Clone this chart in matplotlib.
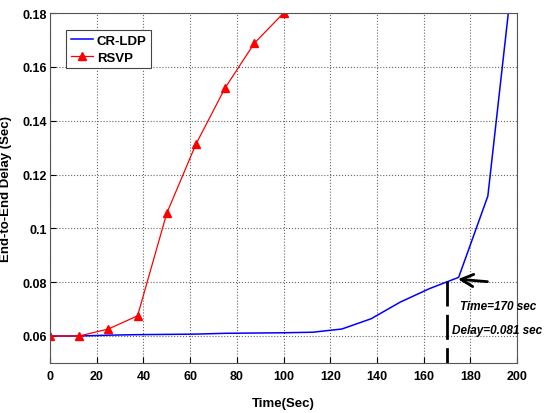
import matplotlib
matplotlib.use("Agg")
import matplotlib.pyplot as plt

plt.rcParams['font.family'] = ['Liberation Sans', 'DejaVu Sans']
plt.rcParams['font.weight'] = 'bold'

# data
time_rsvp = [0, 12.5, 25, 37.5, 50, 62.5, 75, 87.5, 100]
delay_rsvp = [0.060, 0.060, 0.0626, 0.0675, 0.1056, 0.1313, 0.1522, 0.1688, 0.180]

time_crldp = [0, 12.5, 25, 37.5, 50, 62.5, 75, 87.5, 100, 112.5, 125, 137.5,
              150, 162.5, 175, 187.5, 200]
delay_crldp = [0.060, 0.0600, 0.0603, 0.0605, 0.0606, 0.0607, 0.0610, 0.0611,
               0.0612, 0.0614, 0.0626, 0.0664, 0.0726, 0.0776, 0.0818, 0.112, 0.209]

x_ticks = [0, 20, 40, 60, 80, 100, 120, 140, 160, 180, 200]
y_ticks = [0.06, 0.08, 0.1, 0.12, 0.14, 0.16, 0.18]
y_tick_labels = ['0.06', '0.08', '0.1', '0.12', '0.14', '0.16', '0.18']

fig = plt.figure(figsize=(5.58, 4.14), dpi=100)
ax = fig.add_axes([0.0896, 0.121, 0.837, 0.845])

ax.plot(time_crldp, delay_crldp, color='blue', lw=1.1, label='CR-LDP')
ax.plot(time_rsvp, delay_rsvp, color='red', lw=0.9, marker='^', ms=6,
        label='RSVP')

ax.set_xlim(0, 200)
ax.set_ylim(0.05, 0.18)
ax.set_xticks(x_ticks)
ax.set_yticks(y_ticks)
ax.set_yticklabels(y_tick_labels)
ax.tick_params(labelsize=9, direction='in', length=4)
ax.tick_params(axis='y', pad=2)
ax.tick_params(axis='x', pad=5)
ax.grid(True, linestyle=':', color='#666666', lw=0.8)
for s in ax.spines.values():
    s.set_color('#555555')

ax.set_xlabel('Time(Sec)', fontsize=9.5, fontweight='bold')
ax.set_ylabel('End-to-End Delay (Sec)', fontsize=9.5, fontweight='bold')
ax.xaxis.set_label_coords(0.5, -0.098)
ax.yaxis.set_label_coords(-0.082, 0.5)

leg = ax.legend(loc='upper left', bbox_to_anchor=(0.02, 0.97), fontsize=9.5,
                fancybox=False, edgecolor='#444444', framealpha=1,
                handlelength=1.7, borderpad=0.35, labelspacing=0.35,
                handletextpad=0.3)
leg.get_frame().set_linewidth(0.8)

# annotation at t=170
ax.plot([170, 170], [0.0805, 0.05], color='black', lw=2,
        linestyle=(0, (9, 3)), clip_on=False)
ax.annotate('', xy=(173.5, 0.0812), xytext=(188.5, 0.0801),
            arrowprops=dict(arrowstyle='->', color='black', lw=2,
                            mutation_scale=22))
ax.text(175.5, 0.0712, 'Time=170 sec', fontsize=8.5, style='italic',
        va='center', ha='left', clip_on=False)
ax.text(172.0, 0.0622, 'Delay=0.081 sec', fontsize=8.5, style='italic',
        va='center', ha='left', clip_on=False)

fig.savefig('out.png', dpi=100)
